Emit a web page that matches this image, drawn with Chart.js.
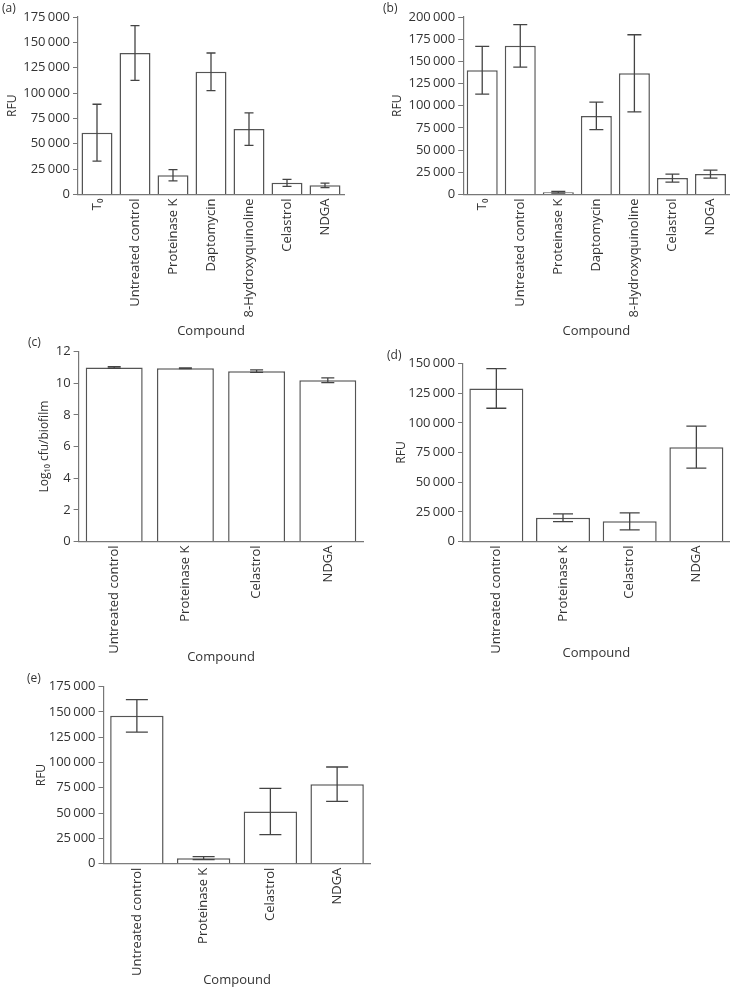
<!DOCTYPE html>
<html>
<head>
<meta charset="utf-8">
<script src="https://cdn.jsdelivr.net/npm/chart.js@4.4.1/dist/chart.umd.min.js"></script>
<style>
    html, body { margin: 0; padding: 0; background: #ffffff; width: 730px; height: 988px; overflow: hidden; }
    #page { position: relative; width: 730px; height: 988px; }
    canvas { position: absolute; }
    .tag { position: absolute; font-family: "Open Sans", sans-serif; font-size: 12px; line-height: 14px; color: #333; }
</style>
</head>
<body>
<div id="page">
    <canvas id="chart-a" width="355" height="345" style="left:0px;top:0px"></canvas>
    <canvas id="chart-b" width="372" height="345" style="left:365px;top:0px"></canvas>
    <canvas id="chart-c" width="372" height="330" style="left:0px;top:340px"></canvas>
    <canvas id="chart-d" width="372" height="320" style="left:365px;top:345px"></canvas>
    <canvas id="chart-e" width="380" height="316" style="left:0px;top:672px"></canvas>
    <div class="tag" style="left:2px;top:1px">(a)</div>
    <div class="tag" style="left:383px;top:1px">(b)</div>
    <div class="tag" style="left:28px;top:335px">(c)</div>
    <div class="tag" style="left:387px;top:348px">(d)</div>
    <div class="tag" style="left:27px;top:671px">(e)</div>
</div>
<script>
// Categories
const compoundsSeven = ["T\u2080", "Untreated control", "Proteinase K", "Daptomycin", "8-Hydroxyquinoline", "Celastrol", "NDGA"];
const compoundsFour = ["Untreated control", "Proteinase K", "Celastrol", "NDGA"];

// Panel (a)
const rfuA = [61000, 139500, 19000, 121000, 64500, 11500, 9000];
const errA = [28000, 27000, 5500, 18500, 16000, 3500, 2300];
// Panel (b)
const rfuB = [140000, 167500, 2500, 88500, 136500, 18500, 23000];
const errB = [27000, 24000, 1000, 15500, 43500, 4500, 4500];
// Panel (c)
const cfuC = [11.0, 10.95, 10.77, 10.2];
const errC = [0.05, 0.02, 0.08, 0.15];
// Panel (d)
const rfuD = [129000, 20000, 17000, 79500];
const errD = [16700, 3200, 7200, 17700];
// Panel (e)
const rfuE = [146000, 5500, 51500, 78500];
const errE = [16000, 1500, 22800, 17000];

Chart.defaults.font.family = "'Open Sans', sans-serif";
Chart.defaults.color = "#333333";

// thin space as thousands separator, like the printed figure
const fmt = v => v >= 10000 ? String(v).replace(/\B(?=(\d{3})+(?!\d))/g, "\u2009") : String(v);

// Draw error bars from the y scale
const errorBars = {
    id: "errorBars",
    afterDatasetsDraw(chart, args, opts) {
        const ctx = chart.ctx;
        const yScale = chart.scales.y;
        const ds = chart.data.datasets[0];
        const meta = chart.getDatasetMeta(0);
        ctx.save();
        ctx.strokeStyle = "#444444";
        ctx.lineWidth = 1.3;
        meta.data.forEach((bar, i) => {
            const v = ds.data[i], e = ds.errors[i];
            const yTop = yScale.getPixelForValue(v + e);
            const yBot = yScale.getPixelForValue(Math.max(v - e, 0));
            const w = opts.cap;
            ctx.beginPath();
            ctx.moveTo(bar.x, yTop); ctx.lineTo(bar.x, yBot);
            ctx.moveTo(bar.x - w, yTop); ctx.lineTo(bar.x + w, yTop);
            ctx.moveTo(bar.x - w, yBot); ctx.lineTo(bar.x + w, yBot);
            ctx.stroke();
        });
        ctx.restore();
    }
};

function makePanel(id, cfg) {
    const ctx = document.getElementById(id).getContext("2d");
    return new Chart(ctx, {
        type: "bar",
        data: {
            labels: cfg.labels,
            datasets: [{
                data: cfg.values,
                errors: cfg.errors,
                backgroundColor: "#ffffff",
                borderColor: "#555555",
                borderWidth: 1.5,
                categoryPercentage: 1,
                barPercentage: cfg.barPct
            }]
        },
        options: {
            responsive: false,
            animation: false,
            layout: { padding: { top: cfg.padTop, right: cfg.padRight, left: 0, bottom: 0 } },
            plugins: {
                legend: { display: false },
                tooltip: { enabled: false },
                errorBars: { cap: cfg.cap }
            },
            scales: {
                x: {
                    grid: { display: false, drawTicks: false },
                    border: { display: true, color: "#777777", width: 1.2 },
                    ticks: { minRotation: 90, maxRotation: 90, autoSkip: false, padding: 4, font: { size: 13 } },
                    title: { display: true, text: "Compound", font: { size: 13 }, padding: { top: 0, bottom: cfg.xTitlePad } },
                    afterFit: scale => { scale.height = cfg.xHeight; }
                },
                y: {
                    min: 0,
                    max: cfg.yMax,
                    ticks: { stepSize: cfg.yStep, padding: 3, font: { size: 13 }, callback: v => fmt(v) },
                    grid: { display: true, drawOnChartArea: false, drawTicks: true, tickLength: 5, color: "#777777" },
                    border: { display: true, color: "#777777", width: 1.2 },
                    title: { display: true, text: cfg.yTitle, font: { size: 12 }, padding: { top: cfg.yTitlePad, bottom: 0 } },
                    afterFit: scale => { scale.width = cfg.yWidth; }
                }
            }
        },
        plugins: [errorBars]
    });
}

makePanel("chart-a", {
    labels: compoundsSeven, values: rfuA, errors: errA, yMax: 175000, yStep: 25000, yTitle: "RFU",
    barPct: 0.815, cap: 4.5, padTop: 17, padRight: 11, yWidth: 78, xHeight: 150.5, xTitlePad: 6, yTitlePad: 5.3
});
makePanel("chart-b", {
    labels: compoundsSeven, values: rfuB, errors: errB, yMax: 200000, yStep: 25000, yTitle: "RFU",
    barPct: 0.815, cap: 7, padTop: 17, padRight: 7.5, yWidth: 98.2, xHeight: 150.5, xTitlePad: 6, yTitlePad: 25.8
});
makePanel("chart-c", {
    labels: compoundsFour, values: cfuC, errors: errC, yMax: 12, yStep: 2, yTitle: "Log\u2081\u2080 cfu/biofilm",
    barPct: 0.80, cap: 6.5, padTop: 11.7, padRight: 8.6, yWidth: 78.6, xHeight: 128.5, xTitlePad: 5, yTitlePad: 37.8
});
makePanel("chart-d", {
    labels: compoundsFour, values: rfuD, errors: errD, yMax: 150000, yStep: 25000, yTitle: "RFU",
    barPct: 0.81, cap: 10, padTop: 18.5, padRight: 7.3, yWidth: 98, xHeight: 123.5, xTitlePad: 4, yTitlePad: 29.5
});
makePanel("chart-e", {
    labels: compoundsFour, values: rfuE, errors: errE, yMax: 175000, yStep: 25000, yTitle: "RFU",
    barPct: 0.80, cap: 11, padTop: 14.5, padRight: 9.5, yWidth: 103.5, xHeight: 124.3, xTitlePad: 0, yTitlePad: 34.5
});
</script>
</body>
</html>
